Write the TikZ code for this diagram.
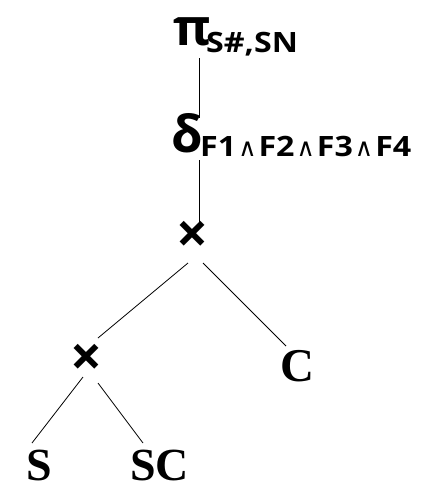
\documentclass[tikz,border=0pt]{standalone}
\usepackage{fontspec}
\newfontfamily\opsans{Open Sans}
\newfontfamily\opsanswide{Open Sans}[FakeStretch=1.15]
\newfontfamily\dvsans{DejaVu Sans}
\newfontfamily\tserif{Liberation Serif}
\newcommand{\andsym}{\hspace{2pt}{\dvsans\mdseries\fontsize{25}{25}\selectfont∧}\hspace{2pt}}
\begin{document}
\begin{tikzpicture}[x=1pt,y=-1pt,
  txt/.style={inner sep=0pt,anchor=base west},
  greek/.style={txt,font=\opsans\bfseries\fontsize{51}{51}\selectfont},
  subs/.style={txt,font=\opsanswide\bfseries\fontsize{28}{28}\selectfont},
  cross/.style={inner sep=0pt,font=\opsans\bfseries\fontsize{56}{56}\selectfont},
  rel/.style={txt,font=\tserif\bfseries\fontsize{#1}{#1}\selectfont},
  edge/.style={line width=0.8pt}]
\useasboundingbox (0,0) rectangle (435,499);
\node[greek] (pi) at (173,45) {π};
\node[subs] (pisub) at (206,52) {S\#,SN};
\node[greek] (delta) at (171,152) {δ};
\node[subs] (dsub) at (200,156) {F1\andsym F2\andsym F3\andsym F4};
\node[cross] (x1) at (192,237) {×};
\node[cross] (x2) at (86,360) {×};
\node[rel=47] (c) at (280,381) {C};
\node[rel=46] (s) at (26,480) {S};
\node[rel=46] (sc) at (130,480) {SC};
\coordinate (a1) at (199,58);
\coordinate (a2) at (199,118);
\coordinate (b1) at (199,160);
\coordinate (b2) at (199,226);
\coordinate (c1) at (188,263);
\coordinate (c2) at (98,338);
\coordinate (d1) at (203,263);
\coordinate (d2) at (286,346);
\coordinate (e1) at (83,377);
\coordinate (e2) at (32,443);
\coordinate (f1) at (98,383);
\coordinate (f2) at (143,443);
\draw[edge] (a1) -- (a2);
\draw[edge] (b1) -- (b2);
\draw[edge] (c1) -- (c2);
\draw[edge] (d1) -- (d2);
\draw[edge] (e1) -- (e2);
\draw[edge] (f1) -- (f2);
\end{tikzpicture}
\end{document}
